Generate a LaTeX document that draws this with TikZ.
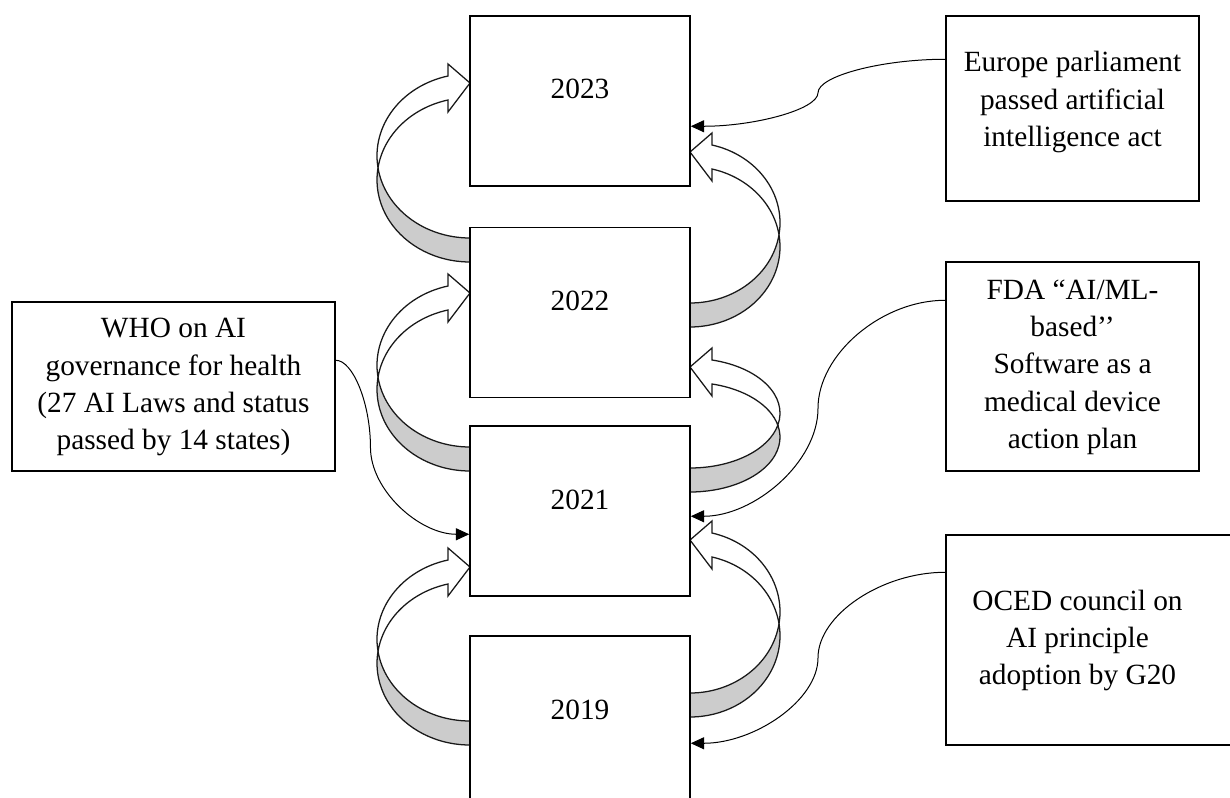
\documentclass[tikz,border=0pt]{standalone}
\usepackage{fontspec}
\setmainfont{Liberation Serif}
\usetikzlibrary{arrows.meta,calc}

\newcommand\boxtext[1]{\begin{tabular}{@{}c@{}}#1\end{tabular}}

% curved block arrow (Word style): #1 edge x, #2 mirror sign, #3 tip y, #4 tail bottom y, #5 width
\newcommand\cblock[5]{%
  \begin{scope}[shift={(#1,0)},xscale=#2]
    \pgfmathsetmacro\cbs{sqrt(1-(22/#5)^2)}
    \pgfmathsetmacro\cbh{(#4-17-#3)/(1+\cbs)}
    \pgfmathsetmacro\cbc{#4-24-\cbh}
    \pgfmathsetmacro\cba{asin(12/\cbh)}
    \pgfmathsetmacro\cbb{acos(22/#5)}
    \pgfmathsetmacro\cbpx{-#5*cos(\cba)}
    \pgfmathsetmacro\cbpy{\cbc+12}
    \pgfmathsetmacro\cbyo{\cbc-\cbh*\cbs}
    \pgfmathsetmacro\cbyi{\cbyo+24}
    \filldraw[blockback] (\cbpx,\cbpy)
      arc[start angle={180-\cba}, end angle=90, x radius=#5, y radius=\cbh]
      -- (0,#4)
      arc[start angle=90, end angle={180+\cba}, x radius=#5, y radius=\cbh] -- cycle;
    \filldraw[blockfront] (\cbpx,\cbpy)
      arc[start angle={180-\cba}, end angle={180+\cbb}, x radius=#5, y radius=\cbh]
      -- (-22,{\cbyo-12}) -- (0,#3) -- (-22,{\cbyi+12}) -- (-22,\cbyi)
      arc[start angle={180+\cbb}, end angle={180+\cba}, x radius=#5, y radius=\cbh] -- cycle;
  \end{scope}}

\begin{document}
\begin{tikzpicture}[x=0.75pt,y=-0.75pt,
  txt/.style={font=\fontsize{22pt}{28pt}\selectfont},
  yearbox/.style={txt, draw=black, line width=1.1pt, fill=white, minimum width=165pt,
    inner xsep=0pt, inner ysep=0pt, text height=62.25pt, text depth=65.25pt},
  sidebox/.style={txt, draw=black, line width=1.1pt, inner sep=0pt},
  blockback/.style={draw=black!90, line width=0.95pt, fill=gray!40, line join=round},
  blockfront/.style={draw=black!90, line width=0.95pt, fill=white, line join=miter},
  conn/.style={draw=black, line width=0.75pt, -{Triangle[length=10pt,width=9pt]}},
  curvconn/.style={to path={let \p1=(\tikztostart), \p2=(\tikztotarget) in
    .. controls ({\x1+0.5*#1*(\x2-\x1)},\y1) and ({\x1+#1*(\x2-\x1)},{0.75*\y1+0.25*\y2})
    .. ({\x1+#1*(\x2-\x1)},{0.5*\y1+0.5*\y2})
    .. controls ({\x1+#1*(\x2-\x1)},{0.25*\y1+0.75*\y2}) and ({0.5*(\x1+#1*(\x2-\x1))+0.5*\x2},\y2)
    .. (\p2)}},
  curvconn/.default=0.5]
\useasboundingbox (0,0) rectangle (1230,798);

% curved block arrows, left side
\cblock{470}{1}{83}{262}{93}
\cblock{470}{1}{293}{471}{93}
\cblock{470}{1}{567}{745}{93}
% curved block arrows, right side
\cblock{690}{-1}{152}{327}{90}
\cblock{690}{-1}{367}{492}{90}
\cblock{690}{-1}{540}{717}{90}

% year boxes
\node[yearbox] (y2023) at (580,101) {2023};
\node[yearbox] (y2022) at (580,312.5) {2022};
\node[yearbox] (y2021) at (580,511) {2021};
\node[yearbox] (y2019) at (580,721) {2019};

% side boxes
\node[sidebox, minimum width=189.75pt, minimum height=138.75pt] (eu) at (1072.5,108.5)
  {\raisebox{5pt}[\height][\depth]{\boxtext{Europe parliament\\passed artificial\\intelligence act}}};
\node[sidebox, minimum width=189.75pt, minimum height=156.75pt] (fda) at (1072.5,366.5)
  {\boxtext{FDA “AI/ML-\\based’’\\Software as a\\medical device\\action plan}};
\node[sidebox, minimum width=232.5pt, minimum height=157.5pt] (oced) at (1101,640)
  {\boxtext{OCED council on\\AI principle\\adoption by G20}\kern35.25pt};
\node[sidebox, minimum width=242.25pt, minimum height=126.75pt] (who) at (173.5,386.5)
  {\boxtext{WHO on AI\\governance for health\\(27 AI Laws and status\\passed by 14 states)}};

% connectors
\draw[conn] ($(eu.north west)+(0,44)$) to[curvconn] ($(y2023.north east)+(0,111)$);
\draw[conn] ($(fda.north west)+(0,39)$) to[curvconn] ($(y2021.north east)+(0,91)$);
\draw[conn] ($(oced.north west)+(0,38)$) to[curvconn] ($(y2019.north east)+(0,108)$);
\draw[conn] ($(who.north east)+(0,59)$) to[curvconn=0.26] ($(y2021.north west)+(0,109)$);
\end{tikzpicture}
\end{document}
